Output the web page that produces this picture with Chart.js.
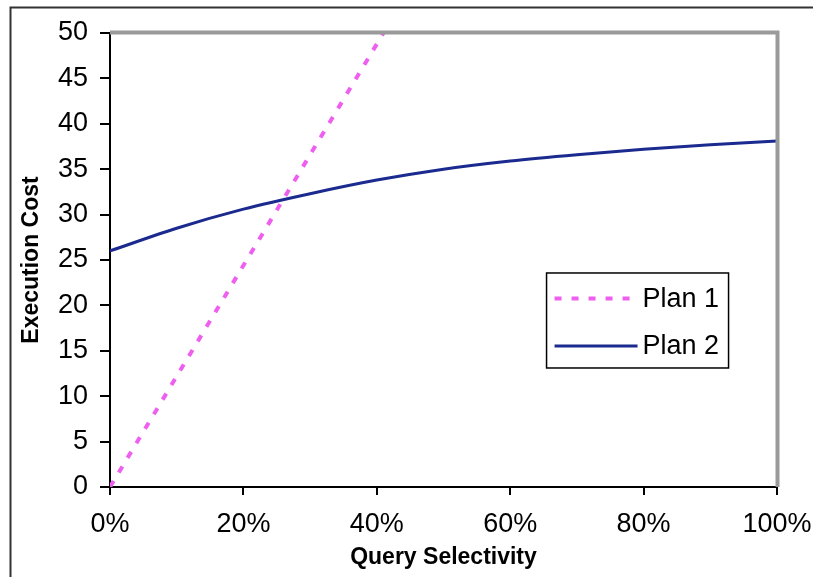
<!DOCTYPE html>
<html>
<head>
<meta charset="utf-8">
<script src="https://cdn.jsdelivr.net/npm/chart.js@4"></script>
<style>
  html, body { margin: 0; padding: 0; background: #fff; }
  #wrap { width: 813px; height: 577px; }
</style>
</head>
<body>
<div id="wrap"><canvas id="c" width="813" height="577"></canvas></div>
<script>
// Query selectivity (%) at which each plan's cost is sampled
const selectivity = [0, 10, 20, 30, 40, 50, 60, 70, 80, 90, 100];
// Plan 2: cost rises slowly with selectivity
const plan2Cost = [26.0, 28.5, 30.6, 32.3, 33.8, 35.0, 35.9, 36.6, 37.2, 37.7, 38.1];
// Plan 1: cost grows linearly from zero and leaves the chart at 50
const plan1Selectivity = [0, 41];
const plan1Cost = [0, 50];
const yTicks = [0, 5, 10, 15, 20, 25, 30, 35, 40, 45, 50];
const xTicks = [0, 20, 40, 60, 80, 100];

const FONT = "'Liberation Sans', Arial, sans-serif";
const PLAN1_COLOR = '#ee5ff0';
const PLAN2_COLOR = '#1b2a8e';

// Outer frame, grey top/right plot border and the boxed legend
const decorations = {
  id: 'decorations',
  beforeDraw(chart) {
    const ctx = chart.ctx;
    ctx.save();
    ctx.strokeStyle = '#333';
    ctx.lineWidth = 2;
    ctx.beginPath();
    ctx.moveTo(10.5, 600);
    ctx.lineTo(10.5, 7.5);
    ctx.lineTo(900, 7.5);
    ctx.stroke();
    ctx.restore();
  },
  afterDraw(chart) {
    const {ctx, chartArea: a} = chart;
    ctx.save();
    // grey frame on the top and right of the plot
    ctx.strokeStyle = '#9a9a9a';
    ctx.lineWidth = 4;
    ctx.beginPath();
    ctx.moveTo(a.left, a.top - 0.5);
    ctx.lineTo(a.right + 0.5, a.top - 0.5);
    ctx.lineTo(a.right + 0.5, a.bottom);
    ctx.stroke();

    // legend box inside the plot
    const w = a.right - a.left, h = a.bottom - a.top;
    const bx = a.left + w * 0.6545, by = a.top + h * 0.5286;
    const bw = 182, bh = 95;
    ctx.strokeStyle = '#000';
    ctx.lineWidth = 1.5;
    ctx.strokeRect(bx, by, bw, bh);
    ctx.font = '27px ' + FONT;
    ctx.textBaseline = 'middle';
    ctx.textAlign = 'left';
    chart.data.datasets.forEach((ds, i) => {
      const ly = by + 25.5 + i * 47.5;
      ctx.save();
      ctx.strokeStyle = ds.borderColor;
      ctx.lineWidth = ds.borderWidth;
      ctx.lineCap = 'butt';
      ctx.setLineDash(ds.borderDash || []);
      ctx.beginPath();
      ctx.moveTo(bx + 8, ly);
      ctx.lineTo(bx + 91, ly);
      ctx.stroke();
      ctx.restore();
      ctx.fillStyle = '#000';
      ctx.fillText(ds.label, bx + 96, ly + 1);
    });
    ctx.restore();
  }
};

new Chart(document.getElementById('c'), {
  type: 'line',
  data: {
    datasets: [
      {
        label: 'Plan 1',
        data: plan1Selectivity.map((x, i) => ({x, y: plan1Cost[i]})),
        borderColor: PLAN1_COLOR,
        borderWidth: 4,
        borderDash: [7, 10],
        borderCapStyle: 'butt',
        pointRadius: 0,
        fill: false
      },
      {
        label: 'Plan 2',
        data: selectivity.map((x, i) => ({x, y: plan2Cost[i]})),
        borderColor: PLAN2_COLOR,
        borderWidth: 3,
        cubicInterpolationMode: 'monotone',
        pointRadius: 0,
        fill: false
      }
    ]
  },
  options: {
    responsive: false,
    animation: false,
    devicePixelRatio: 1,
    layout: { padding: { left: 0, top: 33, right: 36, bottom: 0 } },
    plugins: { legend: { display: false }, tooltip: { enabled: false } },
    scales: {
      x: {
        type: 'linear',
        min: 0, max: 100,
        afterFit(s) { s.height = 90; s.paddingLeft = 0; s.paddingRight = 0; },
        afterBuildTicks(s) { s.ticks = xTicks.map(v => ({value: v})); },
        ticks: {
          callback: v => v + '%',
          color: '#000',
          font: { family: FONT, size: 27 },
          padding: 13,
          maxRotation: 0
        },
        grid: { drawOnChartArea: false, color: '#000', lineWidth: 2, tickLength: 8 },
        border: { color: '#000', width: 2 },
        title: {
          display: true,
          text: 'Query Selectivity',
          color: '#000',
          font: { family: FONT, size: 23, weight: 'bold' },
          padding: { top: 0, bottom: 6 }
        }
      },
      y: {
        min: 0, max: 50,
        afterFit(s) { s.width = 110; s.paddingTop = 0; s.paddingBottom = 0; },
        afterBuildTicks(s) { s.ticks = yTicks.map(v => ({value: v})); },
        ticks: {
          color: '#000',
          font: { family: FONT, size: 27 },
          padding: 12
        },
        grid: { drawOnChartArea: false, color: '#000', lineWidth: 2, tickLength: 10 },
        border: { color: '#000', width: 2 },
        title: {
          display: true,
          text: 'Execution Cost',
          color: '#000',
          font: { family: FONT, size: 23, weight: 'bold' },
          padding: { top: 18, bottom: 0 }
        }
      }
    }
  },
  plugins: [decorations]
});
</script>
</body>
</html>
